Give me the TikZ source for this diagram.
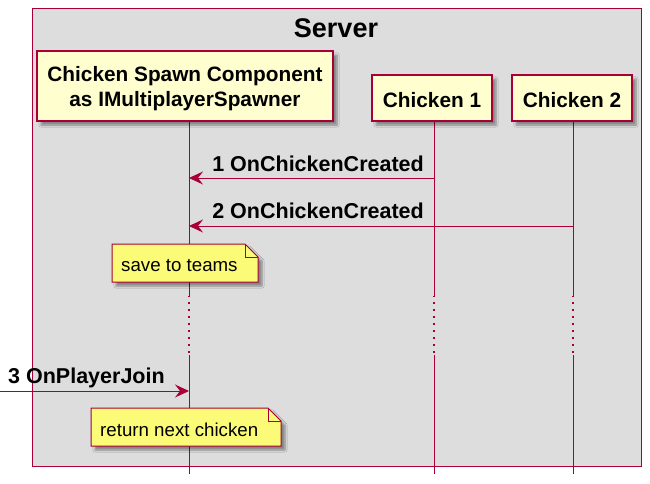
\documentclass[tikz,border=0pt]{standalone}
\usepackage{fontspec}
\setmainfont{Liberation Sans}
\usetikzlibrary{arrows.meta,shadows.blur}
\definecolor{pborder}{HTML}{A80036}
\definecolor{pfill}{HTML}{FEFECE}
\definecolor{nfill}{HTML}{FBFB77}
\definecolor{boxbg}{HTML}{DDDDDD}
\tikzset{
 softshadow/.style={blur shadow={shadow xshift=4pt, shadow yshift=-4pt, shadow blur steps=6, shadow opacity=40}},
 ptext/.style={inner sep=0pt, align=center, font=\fontsize{20.8}{25}\selectfont\bfseries},
 participant/.style={draw=pborder, fill=pfill, line width=1.5pt, ptext, softshadow},
 lifeline/.style={draw=pborder, line width=1pt},
 lifedots/.style={draw=pborder, line width=1.2pt, dash pattern=on 1.5pt off 5.5pt, dash phase=-6pt},
 msg/.style={draw=pborder, line width=1pt, -{Stealth[length=14pt,width=13pt,inset=5pt]}},
 msglabel/.style={font=\fontsize{21.5}{25}\selectfont\bfseries, inner sep=0pt},
 notetext/.style={font=\fontsize{18.7}{22}\selectfont, inner sep=0pt},
 notebox/.style={draw=pborder, fill=nfill, line width=1pt, softshadow},
 notefold/.style={draw=pborder, line width=1pt},
 groupbox/.style={draw=pborder, fill=boxbg, line width=1pt},
}
\begin{document}
\begin{tikzpicture}[x=1pt,y=-1pt]
\useasboundingbox (0,0) rectangle (650,483);
% server box
\path[groupbox] (32,8) rectangle (641,466);
\node[font=\fontsize{27}{30}\selectfont\bfseries, inner sep=0pt, anchor=base] (server) at (336,37) {Server};
% lifelines
\foreach \x in {189,434,573}{
  \draw[lifeline] (\x,121) -- (\x,296);
  \draw[lifedots] (\x,296) -- (\x,354);
  \draw[lifeline] (\x,355) -- (\x,474);
}
% participants
\node[participant, minimum width=296pt, minimum height=70pt] (csc) at (185,86) {};
\node[ptext] (csctext) at (185,89) {Chicken Spawn Component\\as IMultiplayerSpawner};
\node[participant, minimum width=120pt, minimum height=46pt] (ch1) at (432,98) {};
\node[ptext] (ch1text) at (432,100) {Chicken 1};
\node[participant, minimum width=120pt, minimum height=46pt] (ch2) at (572,98) {};
\node[ptext] (ch2text) at (572,100) {Chicken 2};
% message endpoints
\coordinate (m1s) at (434,178);
\coordinate (m1e) at (189,178);
\coordinate (m2s) at (573,226);
\coordinate (m2e) at (189,226);
\coordinate (m3s) at (0,391);
\coordinate (m3e) at (189,391);
\draw[msg] (m1s) -- (m1e);
\node[msglabel, anchor=base east] (l1) at (424,171) {1 OnChickenCreated};
\draw[msg] (m2s) -- (m2e);
\node[msglabel, anchor=base east] (l2) at (424,218) {2 OnChickenCreated};
\draw[msg] (m3s) -- (m3e);
\node[msglabel, anchor=base west] (l3) at (8,383) {3 OnPlayerJoin};
% note 1
\path[notebox] (112,244) -- (245,244) -- (258,257) -- (258,282) -- (112,282) -- cycle;
\draw[notefold] (245,244) -- (245,257) -- (258,257);
\node[notetext, anchor=base west] (note1) at (121,271) {save to teams};
% note 2
\path[notebox] (91,408) -- (268,408) -- (281,421) -- (281,446) -- (91,446) -- cycle;
\draw[notefold] (268,408) -- (268,421) -- (281,421);
\node[notetext, anchor=base west] (note2) at (100,436) {return next chicken};
\end{tikzpicture}
\end{document}
